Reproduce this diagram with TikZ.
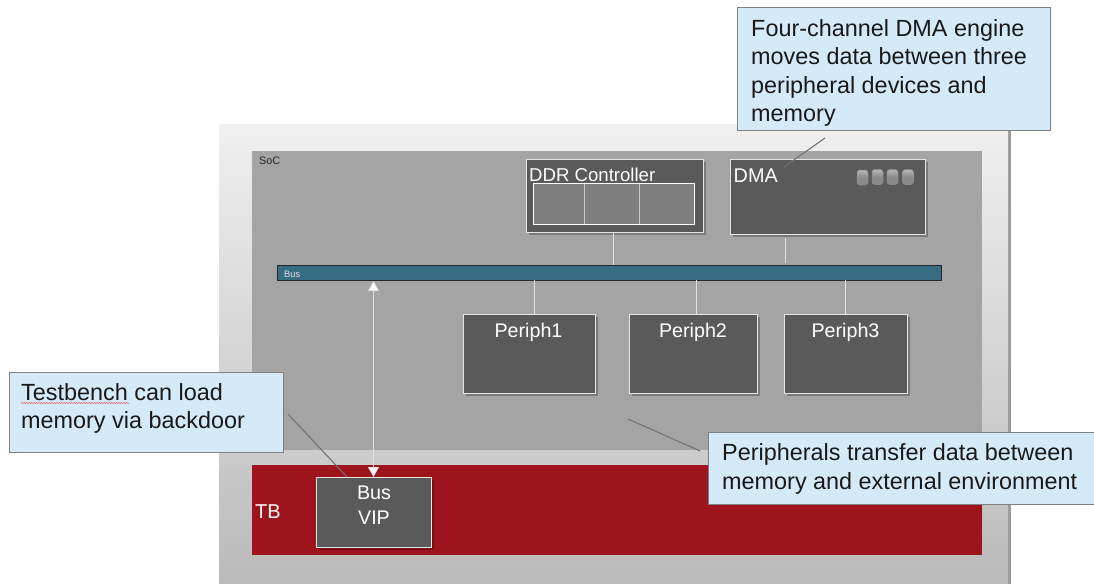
\documentclass[tikz,border=0pt]{standalone}
\usepackage{fontspec}
\setmainfont{Liberation Sans}
\usepackage{tikz}
\usetikzlibrary{fit,positioning}
\usetikzlibrary{shapes,shadows,arrows.meta,decorations.pathmorphing}
\definecolor{socgrey}{HTML}{A4A4A4}
\definecolor{blockgrey}{HTML}{5A5A5A}
\definecolor{cellgrey}{HTML}{7F7F7F}
\definecolor{tbred}{HTML}{9E141C}
\definecolor{busblue}{HTML}{376D82}
\definecolor{notefill}{HTML}{D5EAF8}
\newcommand{\fsize}[1]{\fontsize{#1}{#1}\selectfont}

\begin{document}
\begin{tikzpicture}[x=1pt,y=-1pt]
\tikzstyle{plain}=[rectangle, inner sep=0pt, outer sep=0pt]
\tikzstyle{block}=[plain, draw=black!10, line width=0.8pt, fill=blockgrey, drop shadow={shadow xshift=2.5pt,shadow yshift=-2.5pt,opacity=0.25,fill=black}]
\tikzstyle{cell}=[plain, draw=black!20, line width=0.8pt, fill=cellgrey, minimum height=41pt]
\tikzstyle{note}=[plain, draw=black!50, line width=1pt, fill=notefill]
\tikzstyle{can}=[plain, rounded corners=3pt, minimum width=11pt, minimum height=15pt, top color=black!28, bottom color=black!46, middle color=black!46, draw=black!42, line width=0.5pt]
\tikzstyle{blocktext}=[text=white, inner sep=0pt, align=center]
\tikzstyle{notetext}=[text=black!90, inner sep=0pt, align=left, font=\fontsize{23.4}{28.5}\selectfont]
\tikzstyle{connect}=[draw=black!12, line width=0.9pt]
\tikzstyle{pointer}=[draw=black!55, line width=1.1pt]
\useasboundingbox (0,0) rectangle (1094,586);

	\node[plain, top color=black!6, bottom color=black!27, minimum width=789pt, minimum height=459pt, drop shadow={shadow xshift=3pt,shadow yshift=-1pt,opacity=0.4,fill=black}] (chip) at (613.5,353.5) {};
	\fill[black!20] (chip.west |- 0,450) rectangle (chip.east |- 0,465);
	\node[plain, fill=socgrey, minimum width=730pt, minimum height=299pt, label={[text=black!85, inner sep=0pt, font=\fsize{10.8}, name=soc_text, anchor=west, xshift=7pt, yshift=-10pt]north west:SoC}] (soc) at (617,300.5) {};
	\node[plain, fill=tbred, minimum width=730pt, minimum height=90pt, label={[blocktext, font=\fsize{20}, name=tb_text, anchor=west, xshift=3pt, yshift=-2pt]west:TB}] (tb) at (617,510) {};

	\node[block, minimum width=177pt, minimum height=73pt, label={[blocktext, font=\fsize{18.6}, name=ddr_text, anchor=west, xshift=3pt, yshift=20.5pt]west:DDR Controller}] (ddr) at (614.5,195.5) {};
	\node[cell, minimum width=51.5pt] (ddr_a) at (558.75,203.5) {};
	\node[cell, minimum width=54.5pt] (ddr_b) at (611.75,203.5) {};
	\node[cell, minimum width=55pt] (ddr_c) at (666.5,203.5) {};
	\node[fit=(ddr_a)(ddr_c), plain, draw=white, line width=1pt] (ddr_frame) {};

	\node[block, minimum width=195pt, minimum height=75pt, label={[blocktext, font=\fsize{19.8}, name=dma_text, anchor=west, xshift=3.5pt, yshift=20.5pt]west:DMA}] (dma) at (827.5,196.5) {};
	\node[can] (can_a) at (862.5,177.5) {};
	\node[can] (can_b) at (877.5,177) {};
	\node[can] (can_c) at (892.5,177) {};
	\node[can] (can_d) at (908,177) {};

	\node[plain, fill=busblue, draw=black!85, line width=0.9pt, minimum width=664pt, minimum height=15pt, label={[text=black!12, inner sep=0pt, font=\fsize{9.3}, name=bus_text, anchor=west, xshift=7pt, yshift=-1.5pt]west:Bus}] (bus) at (609,272.5) {};

	\node[block, minimum width=132pt, minimum height=79pt, label={[blocktext, font=\fsize{19.7}, name=periph1_text, yshift=21pt, xshift=-0.5pt]center:Periph1}] (periph1) at (529,353.5) {};
	\node[block, minimum width=128pt, minimum height=79pt, label={[blocktext, font=\fsize{19.7}, name=periph2_text, yshift=21pt]center:Periph2}] (periph2) at (693,353.5) {};
	\node[block, minimum width=123pt, minimum height=79pt, label={[blocktext, font=\fsize{19.7}, name=periph3_text, yshift=21pt]center:Periph3}] (periph3) at (845.5,353.5) {};
	\node[block, minimum width=115pt, minimum height=70pt, label={[blocktext, font=\fsize{19.7}, name=vip_text, yshift=6.5pt]center:Bus\\[5pt]VIP}] (vip) at (374,512) {};

	\path[connect]
		([xshift=-1.5pt]ddr.south) edge ([xshift=-1.5pt]ddr.south |- bus.north)
		([xshift=-42.5pt,yshift=-4pt]dma.south) edge ([xshift=-42.5pt,yshift=2pt]dma.south |- bus.north)
		([xshift=5pt]periph1.north) edge ([xshift=5pt]periph1.north |- bus.south)
		([xshift=3.5pt]periph2.north) edge ([xshift=3.5pt]periph2.north |- bus.south)
		(periph3.north) edge (periph3.north |- bus.south);
	\draw[connect, {Triangle[width=11pt,length=10pt,fill=white]}-{Triangle[width=11pt,length=10pt,fill=white]}, shorten <=1pt] ([xshift=-0.5pt]vip.north |- bus.south) -- ([xshift=-0.5pt]vip.north);

	\node[note, minimum width=313pt, minimum height=122pt, label={[notetext, name=note_dma_text, anchor=west, xshift=14pt, yshift=-4pt]west:{Four-channel DMA engine\\moves data between three\\peripheral devices and\\memory}}] (note_dma) at (893.5,69) {};
	\node[note, minimum width=274pt, minimum height=80pt, label={[notetext, name=note_vip_text, anchor=west, xshift=12pt, yshift=3.5pt]west:{Testbench can load\\memory via backdoor}}] (note_vip) at (146,412) {};
	\node[note, minimum width=386pt, minimum height=72pt, label={[notetext, name=note_periph_text, anchor=west, xshift=14pt, yshift=-1pt]west:{Peripherals transfer data between\\memory and external environment}}] (note_periph) at (901,468) {};
	\draw[red!75, line width=0.4pt, decorate, decoration={snake, amplitude=0.6pt, segment length=2.5pt}] (21,403) -- (129,403);

	\coordinate (dma_from) at (825,138);
	\coordinate (dma_tip) at (784,167);
	\coordinate (vip_from) at (288,414);
	\coordinate (vip_tip) at (347,477);
	\coordinate (periph_from) at (700,451);
	\coordinate (periph_tip) at (628,419);
	\path[pointer]
		(dma_from) edge (dma_tip)
		(vip_from) edge (vip_tip)
		(periph_from) edge (periph_tip);

\end{tikzpicture}
\end{document}
